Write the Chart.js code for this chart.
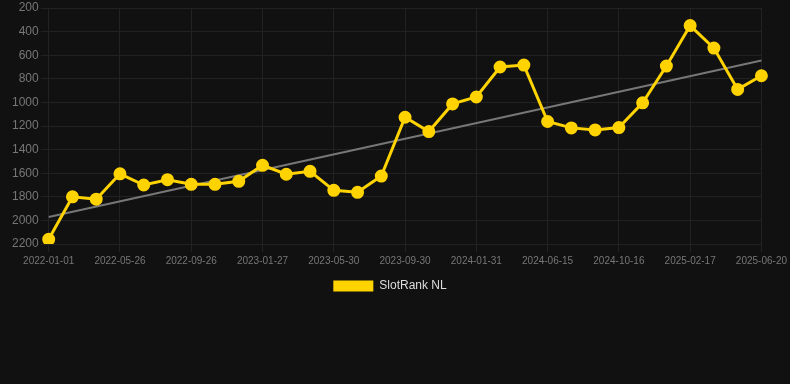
<!DOCTYPE html>
<html>
<head>
<meta charset="utf-8">
<script src="https://cdn.jsdelivr.net/npm/chart.js@4"></script>
<style>
  html, body { margin:0; padding:0; background:#111111; }
  #wrap { width:790px; height:302px; position:relative; }
</style>
</head>
<body>
<div id="wrap"><canvas id="rankChart"></canvas></div>
<script>
// dates (only every third one is shown on the axis)
const dates = [
  '2022-01-01','2022-02-18','2022-04-07','2022-05-26','2022-07-06','2022-08-16',
  '2022-09-26','2022-11-06','2022-12-17','2023-01-27','2023-03-09','2023-04-19',
  '2023-05-30','2023-07-10','2023-08-20','2023-09-30','2023-11-10','2023-12-21',
  '2024-01-31','2024-03-16','2024-04-30','2024-06-15','2024-07-26','2024-09-05',
  '2024-10-16','2024-11-26','2025-01-07','2025-02-17','2025-03-30','2025-05-10',
  '2025-06-20'
];
// SlotRank NL position (lower is better)
const rankNL = [
  2160, 1800, 1820, 1605, 1700, 1655,
  1694, 1694, 1669, 1533, 1609, 1584,
  1745, 1762, 1624, 1126, 1247, 1013,
  954, 700, 684, 1162, 1216, 1233,
  1213, 1004, 692, 349, 540, 890,
  774
];
// trend line, read at both ends
const trendStart = 1972;
const trendEnd = 645;
const trendNL = dates.map((d, i) => i === 0 ? trendStart : (i === dates.length - 1 ? trendEnd : null));

const yellow = '#FFD300';
const gridCol = '#222222';

new Chart(document.getElementById('rankChart'), {
  type: 'line',
  data: {
    labels: dates,
    datasets: [
      {
        label: 'SlotRank NL',
        data: rankNL,
        borderColor: yellow,
        backgroundColor: yellow,
        borderWidth: 3,
        pointRadius: 5,
        pointBackgroundColor: yellow,
        pointBorderColor: yellow,
        tension: 0,
        order: 1
      },
      {
        label: 'trend',
        data: trendNL,
        spanGaps: true,
        borderColor: '#777777',
        borderWidth: 2,
        pointRadius: 0,
        fill: false,
        order: 2
      }
    ]
  },
  options: {
    responsive: true,
    maintainAspectRatio: false,
    animation: false,
    layout: { padding: { right: 10 } },
    plugins: {
      legend: {
        position: 'bottom',
        labels: {
          color: '#dddddd',
          font: { family: 'Arial, "Liberation Sans", sans-serif', size: 12 },
          boxWidth: 40,
          boxHeight: 11,
          generateLabels: chart => Chart.defaults.plugins.legend.labels.generateLabels(chart)
            .filter(item => item.text !== 'trend')
            .map(item => Object.assign(item, { lineWidth: 0 }))
        }
      },
      tooltip: { enabled: false }
    },
    scales: {
      x: {
        offset: false,
        grid: { color: gridCol, tickColor: gridCol, tickLength: 8 },
        border: { display: false },
        ticks: {
          autoSkip: false,
          maxRotation: 0,
          color: '#777777',
          padding: 3,
          font: { family: 'Arial, "Liberation Sans", sans-serif', size: 10 },
          callback: function(v, i){ return i % 3 === 0 ? this.getLabelForValue(v) : null; }
        }
      },
      y: {
        reverse: true,
        min: 200,
        max: 2200,
        afterFit: s => { s.width += 10; },
        grid: { color: gridCol, tickColor: gridCol, tickLength: 8 },
        border: { display: false },
        ticks: {
          stepSize: 200,
          color: '#777777',
          padding: 2,
          font: { family: 'Arial, "Liberation Sans", sans-serif', size: 12, lineHeight: 1 },
          callback: v => String(v)
        }
      }
    }
  }
});
</script>
</body>
</html>
